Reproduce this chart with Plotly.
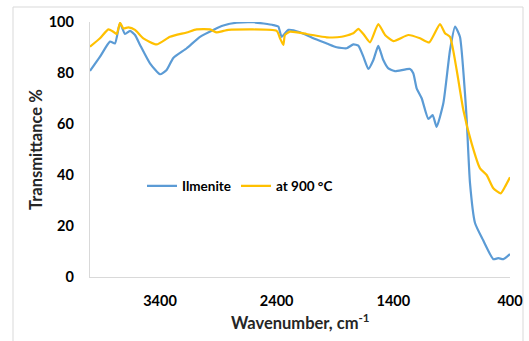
import plotly.graph_objects as go

# Ilmenite spectrum (wavenumber cm-1, transmittance %)
ilm_wn = [4000, 3914, 3829, 3786, 3743, 3700, 3657, 3614, 3571, 3486, 3400, 3343, 3286,
          3171, 3057, 2943, 2857, 2743, 2600, 2429, 2386, 2357, 2300, 2200, 2086, 1971,
          1886, 1800, 1743, 1700, 1657, 1614, 1571, 1529, 1486, 1443, 1386, 1257, 1229,
          1200, 1157, 1100, 1063, 1029, 971, 914, 871, 829, 786, 771, 743, 700, 631,
          543, 500, 457, 400]
ilm_t = [80.8, 86.4, 92.3, 91.6, 99.5, 95.3, 96.5, 94.9, 91.0, 83.8, 79.5, 81.2, 85.9,
         89.7, 94.2, 96.9, 98.6, 99.7, 99.9, 98.8, 98.2, 94.2, 96.9, 96.0, 93.6, 91.6,
         90.1, 89.7, 91.2, 90.7, 86.4, 81.6, 85.1, 90.6, 85.1, 81.8, 80.7, 81.6, 79.9,
         74.0, 70.1, 62.0, 63.5, 58.9, 68.2, 89.0, 98.2, 94.2, 72.0, 61.6, 36.9, 21.2,
         14.5, 7.0, 7.4, 7.0, 9.0]

# Sample at 900 C
c900_wn = [4000, 3914, 3843, 3800, 3771, 3743, 3714, 3671, 3614, 3543, 3429, 3314, 3171,
           3086, 2971, 2914, 2857, 2814, 2400, 2371, 2343, 2329, 2286, 2143, 1971, 1843,
           1743, 1700, 1657, 1600, 1529, 1471, 1400, 1271, 1171, 1093, 1000, 957, 914,
           857, 800, 729, 657, 600, 543, 479, 443, 400]
c900_t = [90.3, 93.6, 97.1, 96.2, 95.3, 99.7, 97.5, 97.9, 96.9, 93.6, 91.2, 94.2, 95.9,
          97.1, 97.1, 95.9, 96.5, 96.9, 96.5, 93.6, 91.0, 94.9, 96.2, 95.3, 94.0, 94.2,
          95.6, 97.3, 95.3, 92.0, 99.2, 94.9, 92.5, 94.9, 93.6, 92.0, 99.2, 95.6, 94.2,
          81.2, 65.5, 52.4, 42.6, 40.0, 34.8, 32.8, 35.4, 39.1]

x_ticks = [3400, 2400, 1400, 400]
y_ticks = [0, 20, 40, 60, 80, 100]

FONT = "Lato"
W, H = 529, 341
L, R, T, B = 90, 19, 22, 64
PW, PH = W - L - R, H - T - B

def px_x(p):
    return (p - L) / PW

def px_y(p):
    return (H - B - p) / PH

fig = go.Figure()
fig.add_trace(go.Scatter(x=ilm_wn, y=ilm_t, mode="lines", name="Ilmenite",
                         line=dict(color="#5B9BD5", width=2.2, shape="spline", smoothing=0.5)))
fig.add_trace(go.Scatter(x=c900_wn, y=c900_t, mode="lines", name="at 900 °C",
                         line=dict(color="#FFC000", width=2.2, shape="spline", smoothing=0.5)))

fig.update_layout(
    width=W, height=H,
    margin=dict(l=L, r=R, t=T, b=B),
    paper_bgcolor="white", plot_bgcolor="white",
    font=dict(family=FONT, size=14, color="#000000"),
    showlegend=True,
    legend=dict(orientation="h", x=px_x(142), y=px_y(186), xanchor="left", yanchor="middle",
                bgcolor="rgba(0,0,0,0)",
                font=dict(family=FONT, size=13.5, color="#000000", weight="bold")),
    xaxis=dict(range=[4000, 400], tickvals=x_ticks, ticktext=[str(v) for v in x_ticks],
               automargin=False,
               showgrid=False, zeroline=False, showline=True, linecolor="#D9D9D9",
               linewidth=1.3, ticks="outside", ticklen=10, tickcolor="rgba(0,0,0,0)",
               tickfont=dict(family=FONT, size=14.5, weight="bold")),
    yaxis=dict(range=[0, 100], tickvals=y_ticks, automargin=False,
               showgrid=False, zeroline=False, showline=True, linecolor="#D9D9D9",
               linewidth=1.3, ticks="outside", ticklen=12, tickcolor="rgba(0,0,0,0)",
               tickfont=dict(family=FONT, size=14.5, weight="bold")),
    annotations=[
        dict(text="Wavenumber, cm<sup>-1</sup>", xref="paper", yref="paper",
             x=px_x(300), y=px_y(322), xanchor="center", yanchor="middle", showarrow=False,
             font=dict(family=FONT, size=16.5, weight="bold", color="#262626")),
        dict(text="Transmittance %", xref="paper", yref="paper", textangle=-90,
             x=px_x(36), y=px_y(150), xanchor="center", yanchor="middle", showarrow=False,
             font=dict(family=FONT, size=16.5, weight="bold", color="#262626")),
    ],
    shapes=[dict(type="rect", xref="paper", yref="paper",
                 x0=px_x(13), x1=px_x(523), y0=px_y(360), y1=px_y(7),
                 line=dict(color="#D9D9D9", width=1), fillcolor="rgba(0,0,0,0)", layer="below")],
)

fig.write_html(
    "out.html",
    config={"displayModeBar": False},
    post_script="document.body.style.margin='0';document.body.style.overflow='hidden';"
                "document.documentElement.style.overflow='hidden';",
)
